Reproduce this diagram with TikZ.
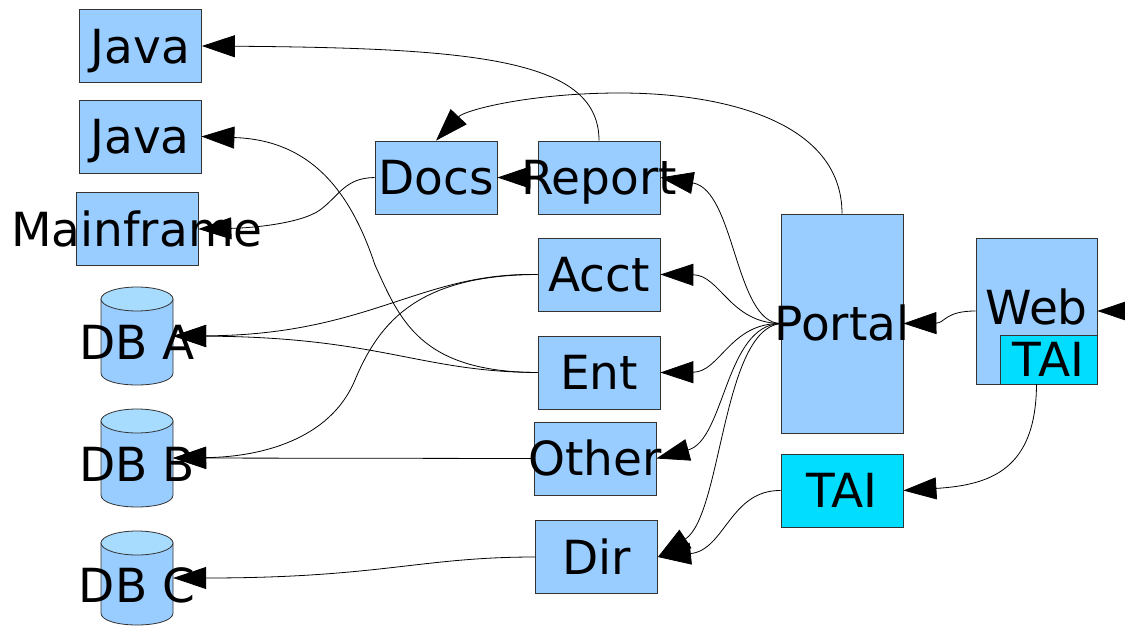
\documentclass[tikz,border=0pt]{standalone}
\usepackage{fontspec}
\setmainfont{DejaVu Sans}
\usetikzlibrary{arrows.meta}
\definecolor{boxblue}{HTML}{99CCFF}
\definecolor{taicyan}{HTML}{00DDFF}
\definecolor{cyltop}{HTML}{A8DCFF}
\definecolor{boxline}{HTML}{333333}
\newcommand\dgfont{\fontsize{47}{56}\selectfont}
\newcommand\zw[1]{\makebox[0pt]{#1}}
\tikzset{
  box/.style={draw=boxline, fill=boxblue, line width=0.8pt, inner sep=0pt,
    minimum width=122pt, minimum height=73pt, text height=34.3pt, text depth=0pt, font=\dgfont},
  taibox/.style={box, fill=taicyan},
  lbl/.style={inner sep=0pt, text height=34.3pt, text depth=0pt, font=\dgfont},
  dbnode/.style={inner sep=0pt, minimum width=72pt, minimum height=98pt},
  cylbody/.style={draw=boxline, fill=boxblue, line width=0.8pt},
  cyltopst/.style={draw=boxline, fill=cyltop, line width=0.8pt},
  conn/.style={draw, line width=0.8pt, -{Triangle[length=33pt,width=22pt]}},
}
\begin{document}
\begin{tikzpicture}[x=1pt,y=-1pt]
\useasboundingbox (0,0) rectangle (1125,626);
\fill[white] (0,0) rectangle (1125,626);

% boxes
\node[box] (java1) at (140.5,46) {\zw{Java}};
\node[box] (java2) at (140,136.5) {\zw{Java}};
\node[box] (main) at (137,229) {\zw{Mainframe}};
\node[box] (docs) at (436,177.5) {\zw{Docs}};
\node[box] (report) at (599,177.5) {\zw{Report}};
\node[box] (acct) at (599,274.5) {\zw{Acct}};
\node[box] (ent) at (599,372.5) {\zw{Ent}};
\node[box] (other) at (595,458.5) {\zw{Other}};
\node[box] (dir) at (596.5,557) {\zw{Dir}};
\node[box, minimum height=219pt] (portal) at (842,323.5) {\zw{Portal}};
\node[box, minimum width=121pt, minimum height=146pt, text depth=7pt] (web) at (1036.5,311) {\zw{Web}};
\node[taibox, minimum width=97pt, minimum height=49pt] (taiin) at (1048.5,359.5) {\zw{TAI}};
\node[taibox] (tai) at (842,490.5) {\zw{TAI}};

% cylinders
\path[cylbody] (101,299) -- (101,373) .. controls (101,389) and (173,389) .. (173,373) -- (173,299) -- cycle;
\path[cyltopst] (137,299) ellipse [x radius=36pt, y radius=12pt];
\path[cylbody] (101,421) -- (101,495) .. controls (101,511) and (173,511) .. (173,495) -- (173,421) -- cycle;
\path[cyltopst] (137,421) ellipse [x radius=36pt, y radius=12pt];
\path[cylbody] (101,543) -- (101,613) .. controls (101,629) and (173,629) .. (173,613) -- (173,543) -- cycle;
\path[cyltopst] (137,543) ellipse [x radius=36pt, y radius=12pt];
\node[dbnode] (dba) at (137,336) {};
\node[dbnode] (dbb) at (137,458) {};
\node[dbnode] (dbc) at (137,578) {};
\node[lbl] (dbaT) at (137,342.5) {\zw{DB A}};
\node[lbl] (dbbT) at (137,464.5) {\zw{DB B}};
\node[lbl] (dbcT) at (137,585.5) {\zw{DB C}};

\coordinate (extin) at (1170,311);

% connectors
\path[conn] (report.north) .. controls (599,60) and (480,48) .. (java1.east);
\path[conn] (portal.north) .. controls (842,120) and (720,93) .. (620,93) .. controls (530,93) and (465,110) .. (docs.north);
\path[conn] (report.west) -- (docs.east);
\path[conn] (docs.west) .. controls (345,178) and (340,195) .. (320,210) .. controls (300,224) and (250,228) .. (main.east);
\path[conn] (ent.west) .. controls (420,372) and (400,320) .. (375,265) .. controls (350,190) and (310,140) .. (java2.east);
\path[conn] (acct.west) .. controls (420,272) and (370,335) .. (dba.east);
\path[conn] (acct.west) .. controls (420,275) and (380,320) .. (355,380) .. controls (330,440) and (260,457) .. (dbb.east);
\path[conn] (ent.west) .. controls (420,372) and (380,337) .. (dba.east);
\path[conn] (other.west) -- (dbb.east);
\path[conn] (dir.west) .. controls (420,557) and (380,578) .. (dbc.east);

\path[conn] (portal.west) .. controls (735,323) and (735,190) .. (report.east);
\path[conn] (portal.west) .. controls (730,323) and (720,275) .. (acct.east);
\path[conn] (portal.west) .. controls (730,323) and (720,372) .. (ent.east);
\path[conn] (portal.west) .. controls (725,325) and (725,440) .. (other.east);
\path[conn] (portal.west) .. controls (722,330) and (722,515) .. (dir.east);
\path[conn] (tai.west) .. controls (730,490) and (725,550) .. (dir.east);
\path[conn] (web.west) .. controls (945,311) and (945,323) .. (portal.east);
\path[conn] (web.south) .. controls (1036,470) and (990,485) .. (tai.east);
\path[conn] (extin) -- (web.east);
\end{tikzpicture}
\end{document}
